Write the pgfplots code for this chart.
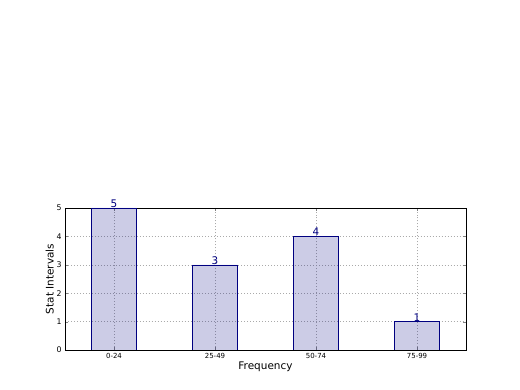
\documentclass[border=0pt]{standalone}
\usepackage{pgfplots}
\pgfplotsset{compat=1.18}
\usepackage{fontspec}
\setmainfont{DejaVu Sans}
\definecolor{baredge}{RGB}{0,0,128}
\definecolor{gridc}{RGB}{170,170,170}
\begin{document}
\begin{tikzpicture}
\useasboundingbox (-65bp,-40bp) rectangle (455bp,350bp);
\begin{axis}[
  at={(0,0)}, anchor=south west,
  scale only axis, width=401bp, height=142bp,
  xmin=-0.485, xmax=3.485, ymin=0, ymax=5,
  xtick={0,1,2,3}, xticklabels={0-24,25-49,50-74,75-99},
  ytick={0,1,2,3,4,5},
  tick align=inside, tick pos=both,
  major tick length=3bp,
  grid=major,
  grid style={gridc, dash pattern=on 1pt off 2pt, line width=0.6pt},
  axis line style={black, line width=0.6pt},
  /pgf/number format/assume math mode=true,
  xticklabel style={font=\fontsize{7}{8}\selectfont},
  yticklabel style={font=\fontsize{7.8}{8}\selectfont},
  xlabel={Frequency}, ylabel={Stat Intervals},
  label style={font=\fontsize{10.5}{12}\selectfont},
  xlabel style={yshift=4bp},
  ylabel style={yshift=-4bp},
]
\addplot[ybar, bar width=0.45, fill=baredge, fill opacity=0.2, draw=baredge, draw opacity=1, line width=0.6pt,
  nodes near coords, every node near coord/.append style={font=\fontsize{10.5}{11}\selectfont, text=baredge, fill opacity=1, text opacity=1, anchor=south, inner sep=0.3pt}]
  coordinates {(0,5) (1,3) (2,4) (3,1)};
\end{axis}
\end{tikzpicture}
\end{document}
